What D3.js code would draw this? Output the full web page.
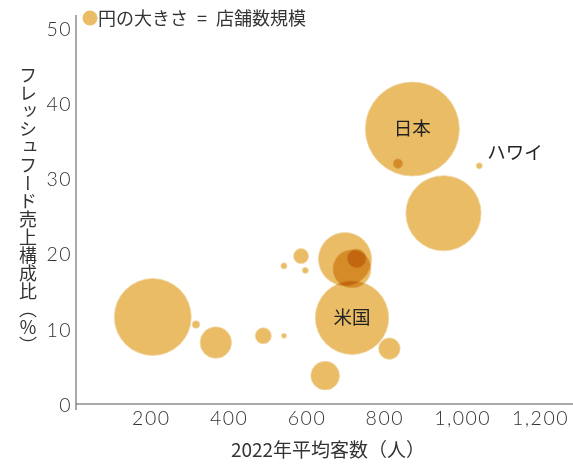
<!DOCTYPE html>
<html>
<head>
<meta charset="utf-8">
<script src="https://cdn.jsdelivr.net/npm/d3@7"></script>
<style>
  body { margin: 0; background: #fff; }
  svg text { fill: #333; }
  .jp { font-family: "Noto Sans CJK JP", "Noto Sans", sans-serif; }
  .num { font-family: Lato, "Noto Sans", sans-serif; font-weight: 300; letter-spacing: 1.5px; }
</style>
</head>
<body>
<div id="chart"></div>
<script>
'use strict'

// 2022年平均客数（人）
let visitors = [205, 316, 367, 489, 542, 542, 586, 597, 699, 717, 729, 717, 813, 648, 872, 835, 1044, 952];
// フレッシュフード売上構成比（%）
let freshShare = [11.7, 10.7, 8.3, 9.2, 9.2, 18.5, 19.8, 17.9, 19.4, 18.1, 19.5, 11.6, 7.5, 3.9, 36.7, 32.1, 31.8, 25.5];
// 店舗数規模（日本=100 の相対値）
let stores = [67, 0.65, 11.2, 2.9, 0.28, 0.41, 2.55, 0.41, 32, 16.3, 3.9, 61, 5.2, 9.3, 100, 1.0, 0.41, 64];
// 名前ラベル
let names = ['', '', '', '', '', '', '', '', '', '', '', '米国', '', '', '日本', '', 'ハワイ', ''];

let xTicks = [200, 400, 600, 800, 1000, 1200];
let yTicks = [0, 10, 20, 30, 40, 50];

const W = 573, H = 466;
const gold = '#E9BC65';

var svg = d3.select('#chart').append('svg')
    .attr('width', W)
    .attr('height', H);

svg.append('rect').attr('width', W).attr('height', H).attr('fill', '#fff');

var x = d3.scaleLinear().domain([0, 1200]).range([73, 540]);
var y = d3.scaleLinear().domain([0, 50]).range([405, 29]);
var r = d3.scaleSqrt().domain([0, 100]).range([0, 47]);

var axisY = 76, axisX = 404;

// bubbles
var data = visitors.map(function(v, i) {
  return {x: v, y: freshShare[i], n: stores[i], name: names[i]};
});

svg.append('g').selectAll('circle')
  .data(data)
  .enter().append('circle')
    .attr('cx', function(d) { return x(d.x); })
    .attr('cy', function(d) { return y(d.y); })
    .attr('r', function(d) { return r(d.n); })
    .attr('fill', gold)
    .attr('stroke', '#F1D7A4')
    .attr('stroke-width', 0.8)
    .style('mix-blend-mode', 'multiply');

// axes lines
svg.append('line')
  .attr('x1', axisY).attr('x2', axisY)
  .attr('y1', 15).attr('y2', 410)
  .attr('stroke', '#555').attr('stroke-width', 1);
svg.append('line')
  .attr('x1', axisY).attr('x2', W)
  .attr('y1', axisX).attr('y2', axisX)
  .attr('stroke', '#555').attr('stroke-width', 1);

// tick labels
var gx = svg.append('g')
  .attr('transform', 'translate(0,' + axisX + ')')
  .call(d3.axisBottom(x).tickValues(xTicks).tickSize(0).tickPadding(7).tickFormat(d3.format(',')));
gx.select('.domain').remove();
gx.selectAll('text').attr('class', 'num').style('font-size', '19.5px').style('fill', '#333');

var gy = svg.append('g')
  .attr('transform', 'translate(' + (axisY - 1) + ',0)')
  .call(d3.axisLeft(y).tickValues(yTicks).tickSize(0).tickPadding(3));
gy.select('.domain').remove();
gy.selectAll('text').attr('class', 'num').style('font-size', '19.5px').style('fill', '#333');

// bubble names
svg.append('g').selectAll('text')
  .data(data.filter(function(d) { return d.name !== ''; }))
  .enter().append('text')
    .attr('class', 'jp')
    .attr('x', function(d) { return d.name === 'ハワイ' ? x(d.x) + 8 : x(d.x); })
    .attr('y', function(d) { return d.name === 'ハワイ' ? y(d.y) - 13 : y(d.y); })
    .attr('dy', '0.35em')
    .attr('text-anchor', function(d) { return d.name === 'ハワイ' ? 'start' : 'middle'; })
    .style('font-size', '18.5px')
    .style('fill', '#222')
    .text(function(d) { return d.name; });

// legend
svg.append('circle').attr('cx', 90).attr('cy', 18).attr('r', 7.5).attr('fill', gold);
svg.append('text').attr('class', 'jp')
  .attr('x', 98).attr('y', 24.5)
  .style('font-size', '18px')
  .text('円の大きさ\u2002=\u2002店舗数規模');

// axis titles
svg.append('text').attr('class', 'jp')
  .attr('x', 328).attr('y', 457)
  .attr('text-anchor', 'middle')
  .style('font-size', '19px')
  .text('2022年平均客数（人）');

svg.append('text').attr('class', 'jp')
  .attr('x', 28).attr('y', 210)
  .attr('text-anchor', 'middle')
  .style('font-size', '18px')
  .style('writing-mode', 'vertical-rl')
  .text('フレッシュフード売上構成比（％）');
</script>
</body>
</html>
